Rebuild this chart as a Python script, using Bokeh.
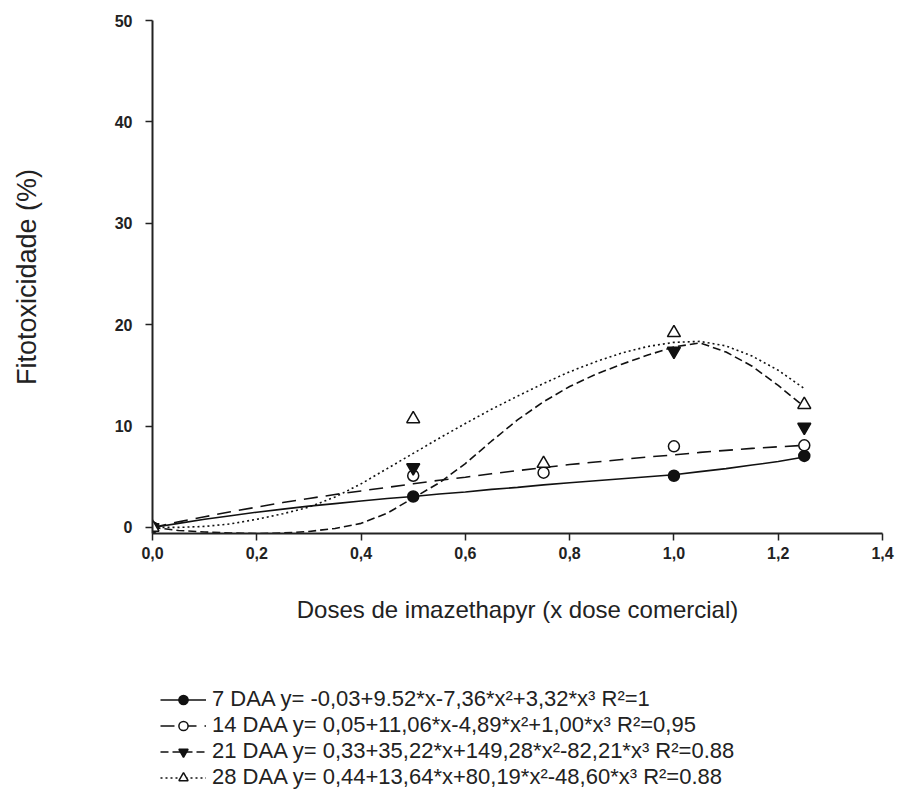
from bokeh.plotting import figure
from bokeh.layouts import column
from bokeh.models import Range1d, FixedTicker, Legend, LegendItem
from bokeh.embed import file_html
from bokeh.resources import INLINE

# ---- data ----
d7_x = [0.0, 0.5, 1.0, 1.25]
d7_y = [0.0, 3.05, 5.1, 7.05]
d14_x = [0.0, 0.5, 0.75, 1.0, 1.25]
d14_y = [0.0, 5.1, 5.4, 8.0, 8.1]
d21_x = [0.0, 0.5, 1.0, 1.25]
d21_y = [0.0, 5.9, 17.4, 9.9]
d28_x = [0.0, 0.5, 0.75, 1.0, 1.25]
d28_y = [0.0, 10.7, 6.3, 19.2, 12.1]

# fitted curves
c_x = [0.0, 0.05, 0.1, 0.15, 0.2, 0.25, 0.3, 0.35, 0.4, 0.45, 0.5, 0.55, 0.6,
       0.65, 0.7, 0.75, 0.8, 0.85, 0.9, 0.95, 1.0, 1.05, 1.1, 1.15, 1.2, 1.25]
c7_y = [0.0, 0.4, 0.8, 1.15, 1.5, 1.8, 2.1, 2.35, 2.6, 2.85, 3.05, 3.3, 3.5,
        3.75, 3.95, 4.2, 4.4, 4.6, 4.8, 5.0, 5.2, 5.5, 5.8, 6.15, 6.5, 6.95]
c14_y = [0.0, 0.55, 1.05, 1.55, 2.0, 2.45, 2.85, 3.25, 3.6, 3.95, 4.3, 4.65, 4.95,
         5.3, 5.6, 5.9, 6.2, 6.45, 6.7, 6.95, 7.15, 7.4, 7.6, 7.8, 7.95, 8.1]
c21_y = [0.0, -0.3, -0.45, -0.55, -0.6, -0.55, -0.4, -0.1, 0.4, 1.4, 2.9, 4.4, 6.3,
         8.5, 10.6, 12.4, 13.9, 15.1, 16.1, 17.0, 17.8, 18.2, 17.3, 15.9, 14.0, 11.9]
c28_y = [0.0, 0.0, 0.1, 0.35, 0.8, 1.35, 2.0, 3.0, 4.3, 5.8, 7.3, 8.8, 10.25,
         11.65, 12.95, 14.2, 15.35, 16.35, 17.2, 17.85, 18.25, 18.35, 17.9, 16.9, 15.5, 13.7]

legend_labels = [
    "7 DAA y= -0,03+9.52*x-7,36*x\u00b2+3,32*x\u00b3 R\u00b2=1",
    "14 DAA y= 0,05+11,06*x-4,89*x\u00b2+1,00*x\u00b3 R\u00b2=0,95",
    "21 DAA y= 0,33+35,22*x+149,28*x\u00b2-82,21*x\u00b3 R\u00b2=0.88",
    "28 DAA y= 0,44+13,64*x+80,19*x\u00b2-48,60*x\u00b3 R\u00b2=0.88",
]

x_ticks = [0.0, 0.2, 0.4, 0.6, 0.8, 1.0, 1.2, 1.4]
x_tick_labels = ["0,0", "0,2", "0,4", "0,6", "0,8", "1,0", "1,2", "1,4"]
y_ticks = [0, 10, 20, 30, 40, 50]

FONT = "Liberation Sans"
BLACK = "#111111"

# series styles (line dash, marker, fill, size)
styles = [
    dict(dash="solid", marker="circle", fill=BLACK, size=11),
    dict(dash="14 8", marker="circle", fill="white", size=11),
    dict(dash="8 4", marker="inverted_triangle", fill=BLACK, size=13),
    dict(dash="2 3", marker="triangle", fill="white", size=13),
]
curves = [c7_y, c14_y, c21_y, c28_y]
points = [(d7_x, d7_y), (d14_x, d14_y), (d21_x, d21_y), (d28_x, d28_y)]

# ---------------- main chart ----------------
p = figure(width=897, height=640,
           min_border_left=152, min_border_right=15,
           min_border_top=20, min_border_bottom=107,
           x_range=Range1d(0, 1.4), y_range=Range1d(-0.6, 50),
           output_backend="svg", toolbar_location=None)
p.outline_line_color = None
p.xgrid.visible = False
p.ygrid.visible = False
p.background_fill_color = "white"
p.border_fill_color = "white"

for ax in (p.xaxis[0], p.yaxis[0]):
    ax.axis_line_width = 2
    ax.axis_line_color = "#222222"
    ax.major_tick_line_width = 1.5
    ax.major_tick_line_color = "#222222"
    ax.major_tick_out = 7
    ax.major_tick_in = 0
    ax.minor_tick_out = 0
    ax.minor_tick_in = 0
    ax.major_label_text_font = FONT
    ax.major_label_text_font_style = "bold"
    ax.major_label_text_font_size = "16px"
    ax.major_label_text_color = "#222222"
    ax.axis_label_text_font = FONT
    ax.axis_label_text_font_style = "normal"
    ax.axis_label_text_color = "#222222"

p.xaxis.ticker = FixedTicker(ticks=x_ticks)
p.xaxis.major_label_overrides = {t: l for t, l in zip(x_ticks, x_tick_labels)}
p.xaxis.axis_label = "Doses de imazethapyr (x dose comercial)"
p.xaxis.axis_label_text_font_size = "24px"
p.xaxis.major_label_standoff = 6
p.xaxis.axis_label_standoff = 34

p.yaxis.ticker = FixedTicker(ticks=y_ticks)
p.yaxis.axis_label = "Fitotoxicidade (%)"
p.yaxis.axis_label_text_font_size = "27px"
p.yaxis.major_label_standoff = 13
p.yaxis.axis_label_standoff = 70

for cy, (px, py), st in zip(curves, points, styles):
    p.line(c_x, cy, line_color=BLACK, line_width=1.6, line_dash=st["dash"])
for cy, (px, py), st in zip(curves, points, styles):
    p.scatter(px, py, marker=st["marker"], size=st["size"], fill_color=st["fill"],
              line_color=BLACK, line_width=1.5)

# ---------------- legend strip ----------------
q = figure(width=897, height=161, min_border=0,
           x_range=Range1d(0, 1.4), y_range=Range1d(-0.6, 50),
           output_backend="svg", toolbar_location=None)
q.axis.visible = False
q.xgrid.visible = False
q.ygrid.visible = False
q.outline_line_color = None
q.background_fill_color = "white"
q.border_fill_color = "white"

items = []
for lab, cy, (px, py), st in zip(legend_labels, curves, points, styles):
    lr = q.line(c_x, cy, line_color=BLACK, line_width=1.6, line_dash=st["dash"],
                visible=False)
    sr = q.scatter(px, py, marker=st["marker"], size=st["size"], fill_color=st["fill"],
                   line_color=BLACK, line_width=1.5, visible=False)
    items.append(LegendItem(label=lab, renderers=[lr, sr]))

legend = Legend(items=items, location=(8, 11), padding=0, margin=0,
                spacing=-5, glyph_width=46, glyph_height=23, label_height=23,
                label_standoff=6, border_line_color=None,
                background_fill_alpha=0, click_policy="none",
                label_text_font=FONT, label_text_font_size="22px",
                label_text_color="#222222")
q.add_layout(legend, "center")

layout = column(p, q)
open("out.html", "w").write(file_html(layout, INLINE))
